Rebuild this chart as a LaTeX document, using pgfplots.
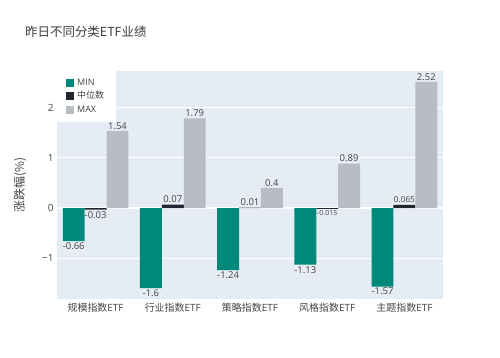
\documentclass[border=0pt]{standalone}
\usepackage{pgfplots}
\pgfplotsset{compat=1.18}
\usepackage{fontspec}
\setmainfont{Open Sans}
\newfontfamily\cjk{Noto Sans CJK SC}
\definecolor{cmin}{RGB}{0,137,123}
\definecolor{cmed}{RGB}{33,38,52}
\definecolor{cmax}{RGB}{184,189,196}
\definecolor{bgc}{HTML}{E5ECF6}
\definecolor{txt}{HTML}{444444}
\newcommand\fsa{\fontsize{7}{8}\selectfont}
\newcommand\fsb{\fontsize{8.3}{9}\selectfont}
\begin{document}
\begin{tikzpicture}[x=1bp,y=1bp]
\path[fill=white] (0,0) rectangle (500,357);
\node[anchor=west, font=\cjk\fontsize{12.5}{14}\selectfont, text=txt!90!black, inner sep=0] at (25,325) {昨日不同分类ETF业绩};
\node[rotate=90, font=\cjk\fontsize{12}{14}\selectfont, text=txt, inner sep=0] at (20,172) {涨跌幅(\%)};
\begin{axis}[
  at={(57bp,58bp)}, anchor=south west, scale only axis,
  width=386bp, height=228bp,
  xmin=-0.5, xmax=4.5, ymin=-1.82, ymax=2.74,
  axis background/.style={fill=bgc},
  axis line style={draw=none},
  ybar=0pt, bar width=21.9bp,
  clip=false,
  xtick={0,1,2,3,4},
  xticklabels={{\cjk 规模指数}ETF,{\cjk 行业指数}ETF,{\cjk 策略指数}ETF,{\cjk 风格指数}ETF,{\cjk 主题指数}ETF},
  xticklabel style={font=\fontsize{10}{12}\selectfont, text=txt, yshift=-1bp},
  ytick={-1,0,1,2},
  yticklabels={−1,0,1,2},
  yticklabel style={font=\fontsize{10}{12}\selectfont, text=txt},
  major tick length=0pt,
  ymajorgrids, grid style={white, line width=1bp},
  extra y ticks={0}, extra y tick labels={},
  extra y tick style={grid style={white, line width=2bp}},
  point meta=explicit symbolic,
  visualization depends on={rawy \as \rawy},
  nodes near coords,
  every node near coord/.append style={font=\fontsize{9.5}{11}\selectfont, text=txt, inner sep=1.5bp,
    anchor=\ifdim\rawy pt<0pt north\else south\fi},
  legend style={at={(0,1)}, anchor=north west, fill=white, draw=none,
    font=\fontsize{9}{10}\selectfont, text=txt, inner xsep=9bp, inner ysep=4.5bp,
    nodes={text height=6.8bp, text depth=1.8bp, inner ysep=2.6bp, inner xsep=3bp},
    /tikz/every even column/.style={column sep=3bp}},
  legend cell align=left,
  legend image code/.code={\fill[#1] (0bp,-4bp) rectangle (8bp,4bp);},
]
\addplot[fill=cmin, draw=none] coordinates {(0,-0.66)[-0.66] (1,-1.6)[-1.6] (2,-1.24)[-1.24] (3,-1.13)[-1.13] (4,-1.57)[-1.57]};
\addplot[fill=cmed, draw=none] coordinates {(0,-0.03)[-0.03] (1,0.07)[0.07] (2,0.01)[0.01] (3,-0.015)[\fsa -0.015] (4,0.065)[\fsb 0.065]};
\addplot[fill=cmax, draw=none] coordinates {(0,1.54)[1.54] (1,1.79)[1.79] (2,0.4)[0.4] (3,0.89)[0.89] (4,2.52)[2.52]};
\legend{MIN,{\cjk 中位数},MAX}
\end{axis}
\end{tikzpicture}
\end{document}
